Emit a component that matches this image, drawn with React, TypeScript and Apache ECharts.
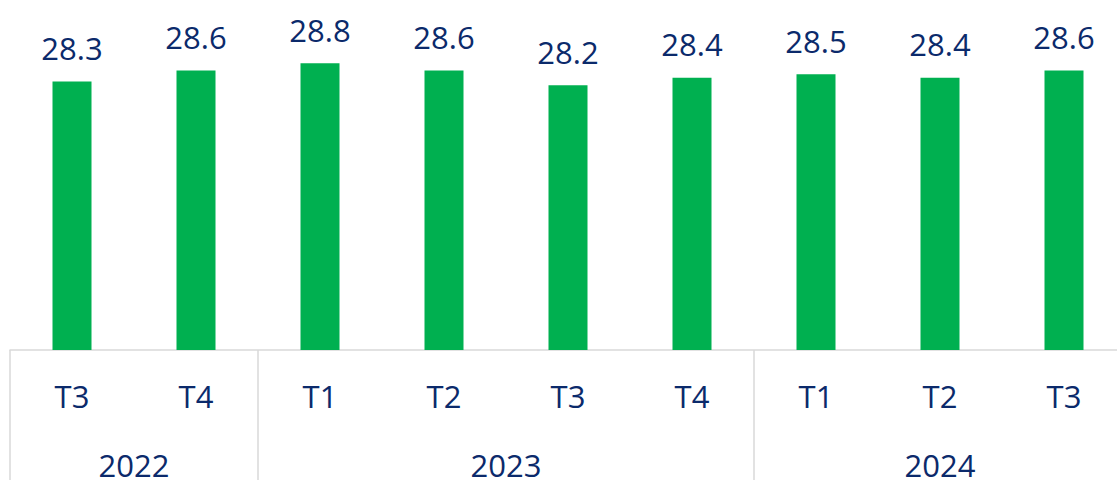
import React, { useEffect, useRef } from "react";
import * as echarts from "echarts";

const quarters = ["T3", "T4", "T1", "T2", "T3", "T4", "T1", "T2", "T3"];
const values = [28.3, 28.6, 28.8, 28.6, 28.2, 28.4, 28.5, 28.4, 28.6];
const years = ["2022", "2023", "2024"];
const yearSpans = [2, 4, 3];

const NAVY = "#0b2a6b";
const GREEN = "#00b050";
const GRAY = "#d9d9d9";
const FONT = "Open Sans";

export default function App() {
  const ref = useRef<HTMLDivElement>(null);
  useEffect(() => {
    if (!ref.current) return;
    const chart = echarts.init(ref.current, null, { renderer: "svg" });
    const bounds: number[] = [0];
    yearSpans.forEach((s) => bounds.push(bounds[bounds.length - 1] + s));
    const centers = yearSpans.map((s, i) => bounds[i] + s / 2);
    const total = bounds[bounds.length - 1];
    chart.setOption({
      animation: false,
      grid: { left: 10, right: 0, top: 19, bottom: 130, containLabel: false },
      yAxis: { type: "value", min: 21, max: 30, show: false },
      xAxis: [
        {
          type: "category",
          data: quarters,
          position: "bottom",
          axisLine: { show: true, lineStyle: { color: GRAY, width: 1.5 } },
          axisTick: {
            show: true,
            alignWithLabel: false,
            interval: (i: number) => bounds.includes(i),
            length: 135,
            lineStyle: { color: GRAY, width: 1.5 },
          },
          axisLabel: {
            color: NAVY,
            fontFamily: FONT,
            fontSize: 31,
            margin: 30,
          },
        },
        {
          type: "value",
          min: 0,
          max: total,
          position: "bottom",
          axisLine: { show: false },
          axisTick: { show: false },
          splitLine: { show: false },
          axisLabel: {
            customValues: centers,
            formatter: (v: number) => {
              const idx = centers.findIndex((c) => Math.abs(c - v) < 1e-6);
              return idx >= 0 ? years[idx] : "";
            },
            color: NAVY,
            fontFamily: FONT,
            fontSize: 31,
            margin: 99,
          },
        },
      ],
      series: [
        {
          type: "bar",
          xAxisIndex: 0,
          data: values,
          barWidth: 39,
          itemStyle: { color: GREEN },
          label: {
            show: true,
            position: "top",
            distance: 18,
            color: NAVY,
            fontFamily: FONT,
            fontSize: 31,
            formatter: (p: any) => p.value.toFixed(1),
          },
        },
      ],
    });
    return () => chart.dispose();
  }, []);
  return (
    <div
      style={{ position: "absolute", left: 0, top: 0, width: 1117, height: 480, overflow: "hidden", background: "#fff" }}
    >
      <div ref={ref} style={{ width: 1126, height: 480 }} />
    </div>
  );
}
